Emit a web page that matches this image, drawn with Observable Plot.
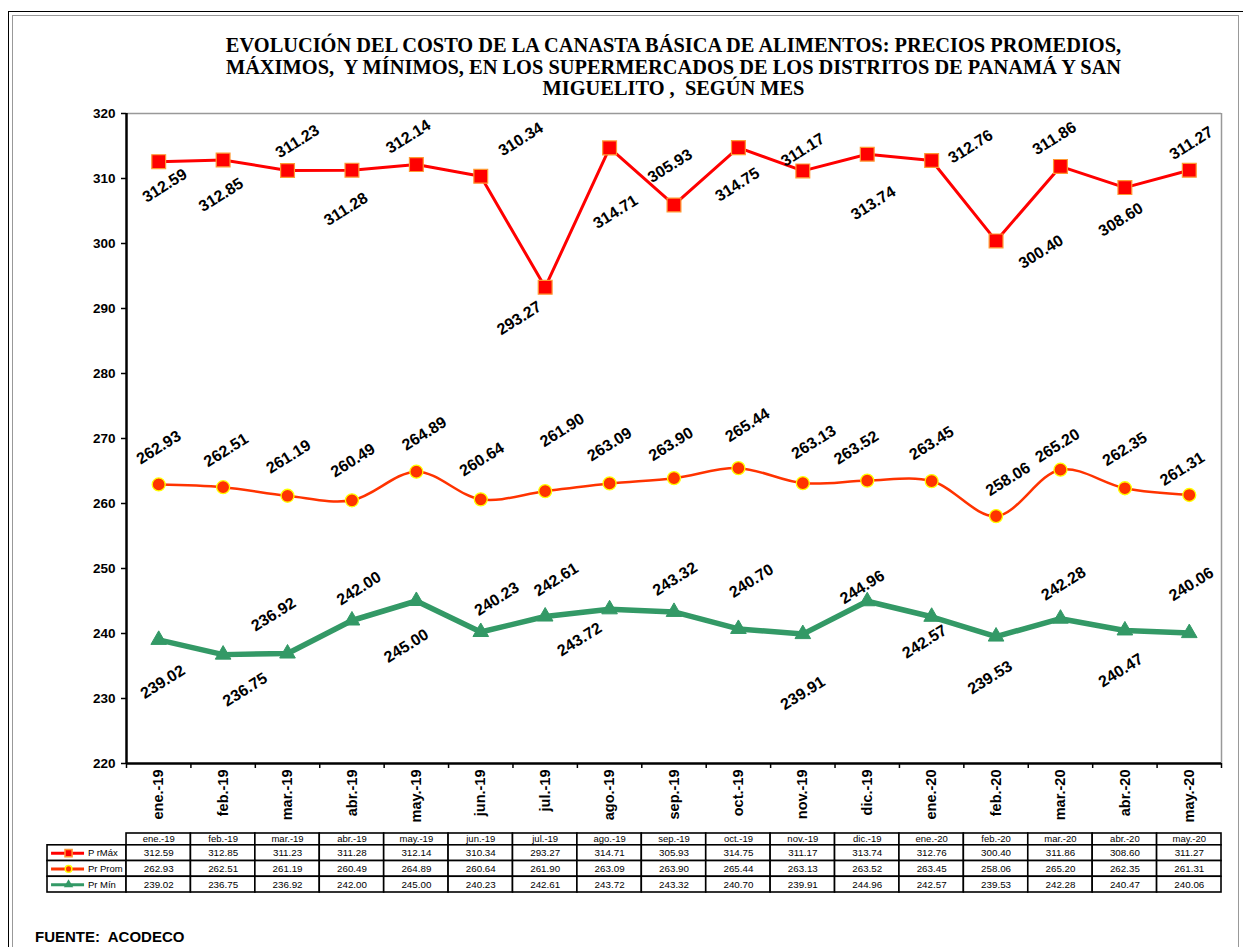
<!DOCTYPE html>
<html><head><meta charset="utf-8">
<script src="https://cdn.jsdelivr.net/npm/d3@7"></script>
<script src="https://cdn.jsdelivr.net/npm/@observablehq/plot@0.6"></script>
<style>
body{margin:0;background:#fff;}
#wrap{position:relative;width:1243px;height:947px;overflow:hidden;font-family:"Liberation Sans",Arial,sans-serif;background:#fff;}
#frameOuter{position:absolute;left:8px;top:11px;width:1236px;height:950px;border:1.5px solid #000;box-sizing:border-box;}
#frameInner{position:absolute;left:12px;top:15px;width:1227px;height:950px;border:1px solid #999;box-sizing:border-box;}
#title{position:absolute;left:126px;width:1095px;top:35px;text-align:center;font-family:"Liberation Serif","Times New Roman",serif;font-weight:bold;font-size:20.4px;line-height:21.5px;color:#000;}
#chart{position:absolute;left:0;top:100px;}
#table{position:absolute;left:0;top:828px;}
#source{position:absolute;left:35px;top:928px;font-family:"Liberation Sans",Arial,sans-serif;font-weight:bold;font-size:15px;color:#000;}
svg text{font-family:"Liberation Sans",Arial,sans-serif;}
</style></head>
<body>
<div id="wrap">
  <div id="frameOuter"></div>
  <div id="frameInner"></div>
  <div id="title">EVOLUCIÓN DEL COSTO DE LA CANASTA BÁSICA DE ALIMENTOS: PRECIOS PROMEDIOS,<br>MÁXIMOS,&nbsp; Y MÍNIMOS, EN LOS SUPERMERCADOS DE LOS DISTRITOS DE PANAMÁ Y SAN<br>MIGUELITO ,&nbsp; SEGÚN MES</div>
  <div id="chart"></div>
  <div id="table"></div>
  <div id="source">FUENTE:&nbsp; ACODECO</div>
</div>
<script>
const months = ["ene.-19","feb.-19","mar.-19","abr.-19","may.-19","jun.-19","jul.-19","ago.-19","sep.-19","oct.-19","nov.-19","dic.-19","ene.-20","feb.-20","mar.-20","abr.-20","may.-20"];
const maxVals = [312.59,312.85,311.23,311.28,312.14,310.34,293.27,314.71,305.93,314.75,311.17,313.74,312.76,300.40,311.86,308.60,311.27];
const promVals = [262.93,262.51,261.19,260.49,264.89,260.64,261.90,263.09,263.90,265.44,263.13,263.52,263.45,258.06,265.20,262.35,261.31];
const minVals = [239.02,236.75,236.92,242.00,245.00,240.23,242.61,243.72,243.32,240.70,239.91,244.96,242.57,239.53,242.28,240.47,240.06];
const seriesNames = ["P rMáx","Pr Prom","Pr Mín"];
const yTicks = [220,230,240,250,260,270,280,290,300,310,320];

// label nudges (screen px) for the rotated data labels
const maxNudge = [[6,24],[-2,35],[10,-29],[-6,39],[-8,-28],[40,-37],[-26,31],[6,64],[-4,-39],[-1,37],[0,-21],[6,49],[39,-14],[45,11],[-6,-28],[-4,32],[2,-27]];
const promNudge = [[0,-37],[3,-37],[1,-39],[1,-40],[8,-38],[1,-40],[17,-61],[0,-39],[-3,-34],[9,-43],[11,-41],[-11,-33],[0,-38],[12,-37],[-3,-24],[0,-39],[-7,-26]];
const minNudge = [[4,42],[22,35],[-14,-39],[7,-32],[-10,45],[16,-33],[11,-37],[-30,30],[1,-33],[13,-48],[0,59],[-5,-14],[-7,25],[-6,41],[3,-35],[-4,40],[2,-49]];

const maxColor = "#FF0000", promColor = "#FF3300", minColor = "#339966";
const toData = vals => vals.map((v, i) => ({i, v, m: months[i]}));
const maxData = toData(maxVals), promData = toData(promVals), minData = toData(minVals);

function labels(data, nudge) {
  return data.map((d, k) => Plot.text([d], {
    x: "i", y: "v", text: d => d.v.toFixed(2),
    rotate: -32, dx: nudge[k][0], dy: nudge[k][1],
    fontSize: 16, fontWeight: "bold", fill: "#000",
    textAnchor: "middle", lineAnchor: "middle"
  }));
}

const W = 1243;
const chart = Plot.plot({
  width: W, height: 728,
  marginTop: 13, marginBottom: 65, marginLeft: 126, marginRight: 22,
  x: {type: "linear", domain: [-0.5, months.length - 0.5], label: null},
  y: {domain: [220, 320], label: null},
  style: {fontFamily: "Liberation Sans, Arial, sans-serif", fontSize: "13px", background: "transparent", overflow: "visible"},
  marks: [
    Plot.ruleY([320], {stroke: "#999", strokeWidth: 1.5}),
    Plot.ruleX([months.length - 0.5], {stroke: "#999", strokeWidth: 1.5}),
    Plot.line(maxData, {x: "i", y: "v", stroke: maxColor, strokeWidth: 3}),
    Plot.dot(maxData, {x: "i", y: "v", symbol: "square", r: 7.8, fill: "#FF0000", stroke: "#FF9933", strokeWidth: 1.2}),
    Plot.line(promData, {x: "i", y: "v", stroke: promColor, strokeWidth: 2.5, curve: "catmull-rom"}),
    Plot.dot(promData, {x: "i", y: "v", r: 6.5, fill: "#FF3300", stroke: "#FFFF00", strokeWidth: 1.3}),
    Plot.line(minData, {x: "i", y: "v", stroke: minColor, strokeWidth: 5.5}),
    Plot.dot(minData, {x: "i", y: "v", symbol: "triangle", r: 5.8, fill: minColor, stroke: minColor, strokeWidth: 1}),
    ...labels(maxData, maxNudge),
    ...labels(promData, promNudge),
    ...labels(minData, minNudge),
    Plot.axisY({ticks: yTicks, tickSize: 5, tickPadding: 6, fontSize: 13.5, fontWeight: "bold", label: null, stroke: "#000", strokeWidth: 1.5}),
    Plot.axisX({ticks: d3.range(-0.5, months.length, 1), tickSize: 5, tickFormat: () => "", label: null, strokeWidth: 1.5}),
    Plot.axisX({ticks: d3.range(0, months.length), tickSize: 0, tickPadding: 6, tickRotate: -90, tickFormat: i => months[i], fontSize: 14.5, fontWeight: "bold", label: null}),
    Plot.ruleX([-0.5], {stroke: "#000", strokeWidth: 2.5}),
    Plot.ruleY([220], {stroke: "#000", strokeWidth: 2.5})
  ]
});
document.getElementById("chart").append(chart);

// ---- data table ----
const legendLeft = -1.727;
const hdrH = 0.75;
const rowsVals = [maxVals, promVals, minVals];
const rowColors = [maxColor, promColor, minColor];
const cells = [];
months.forEach((m, i) => cells.push({x1: i - 0.5, x2: i + 0.5, y1: 0, y2: hdrH}));
rowsVals.forEach((vals, r) => {
  cells.push({x1: legendLeft, x2: -0.5, y1: hdrH + r, y2: hdrH + r + 1});
  vals.forEach((v, i) => cells.push({x1: i - 0.5, x2: i + 0.5, y1: hdrH + r, y2: hdrH + r + 1}));
});
const valueTexts = [];
rowsVals.forEach((vals, r) => vals.forEach((v, i) => valueTexts.push({i, yc: hdrH + r + 0.5, t: v.toFixed(2)})));
const legendRows = seriesNames.map((n, r) => ({n, r, yc: hdrH + r + 0.5, c: rowColors[r]}));

const table = Plot.plot({
  width: W, height: 66,
  marginTop: 5, marginBottom: 2, marginLeft: 47, marginRight: 22,
  x: {type: "linear", domain: [legendLeft, months.length - 0.5], axis: null},
  y: {type: "linear", domain: [hdrH + 3, 0], axis: null},
  style: {fontFamily: "Liberation Sans, Arial, sans-serif", fontSize: "10px", background: "transparent", overflow: "visible"},
  marks: [
    Plot.rect(cells, {x1: "x1", x2: "x2", y1: "y1", y2: "y2", fill: "white", stroke: "#000", strokeWidth: 1.6}),
    Plot.text(months.map((m, i) => ({i, m})), {x: "i", y: () => hdrH / 2, text: "m", fontSize: 9.5, fill: "#000"}),
    Plot.text(valueTexts, {x: "i", y: "yc", text: "t", fontSize: 9.8, fill: "#000"}),
    Plot.ruleY(legendRows, {y: "yc", x1: -1.664, x2: -1.152, stroke: "c", strokeWidth: 3}),
    Plot.dot(legendRows.filter(d => d.r === 0), {x: -1.40, y: "yc", symbol: "square", r: 4, fill: "#FF0000", stroke: "#FF9933"}),
    Plot.dot(legendRows.filter(d => d.r === 1), {x: -1.40, y: "yc", r: 3.3, fill: "#FF3300", stroke: "#FFFF00", strokeWidth: 1.5}),
    Plot.dot(legendRows.filter(d => d.r === 2), {x: -1.40, y: "yc", symbol: "triangle", r: 3.5, fill: minColor}),
    Plot.text(legendRows, {x: -1.10, y: "yc", text: "n", textAnchor: "start", fontSize: 9.5, fill: "#000"})
  ]
});
document.getElementById("table").append(table);
</script>
</body></html>
